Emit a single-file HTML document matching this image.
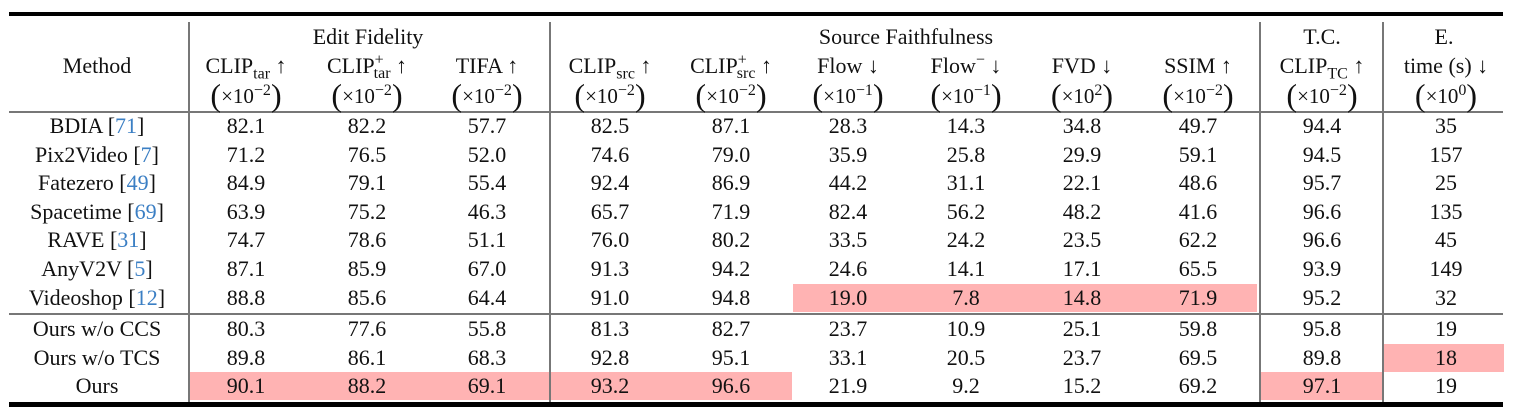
<!DOCTYPE html>
<html><head><meta charset="utf-8"><style>
body{margin:0;background:#fff;width:1522px;height:420px;position:relative;overflow:hidden;font-family:"Liberation Serif",serif;color:#111;}
.a{position:absolute;}
.t{position:absolute;transform:translate(-50%,-50%);white-space:nowrap;font-size:22px;line-height:1;}
.hl{position:absolute;background:#ffb3b3;}
.rule{position:absolute;background:#000;}
.ln{position:absolute;background:#777;}
.cite{color:#3b7fc4;}
sub,sup{font-size:16px;line-height:0;}
.u{font-size:21px;}
.big{font-size:32px;font-weight:100;vertical-align:-3px;}
</style></head><body>
<div class="rule" style="left:9px;top:12px;width:1494px;height:4px"></div>
<div class="ln" style="left:9px;top:111px;width:1494px;height:2px"></div>
<div class="ln" style="left:9px;top:313px;width:1494px;height:2px"></div>
<div class="rule" style="left:9px;top:402px;width:1494px;height:5px"></div>
<div id="hls"></div>
<div class="ln" style="left:188px;top:22px;width:1.5px;height:380px"></div>
<div class="ln" style="left:549px;top:22px;width:1.5px;height:380px"></div>
<div class="ln" style="left:1259px;top:22px;width:1.5px;height:380px"></div>
<div class="ln" style="left:1382px;top:22px;width:1.5px;height:380px"></div>

<div class="t" style="left:97px;top:66px">Method</div>
<div class="t" style="left:368px;top:37px">Edit Fidelity</div>
<div class="t" style="left:906px;top:37px">Source Faithfulness</div>
<div class="t" style="left:1322px;top:37px">T.C.</div>
<div class="t" style="left:1444px;top:37px">E.</div>

<div id="hdr"></div>
<div id="body"></div>
<script>
const cols=[246,367,487,610,731,848,966,1082,1198,1322,1446];
const heads=['CLIP<sub>tar</sub> ↑','CLIP<sup>+</sup><sub style="margin-left:-10px">tar</sub> ↑','TIFA ↑','CLIP<sub>src</sub> ↑','CLIP<sup>+</sup><sub style="margin-left:-10px">src</sub> ↑','Flow ↓','Flow<sup>−</sup> ↓','FVD ↓','SSIM ↑','CLIP<sub>TC</sub> ↑','time (s) ↓'];
const units=['10<sup>−2</sup>','10<sup>−2</sup>','10<sup>−2</sup>','10<sup>−2</sup>','10<sup>−2</sup>','10<sup>−1</sup>','10<sup>−1</sup>','10<sup>2</sup>','10<sup>−2</sup>','10<sup>−2</sup>','10<sup>0</sup>'];
const methods=['BDIA','Pix2Video','Fatezero','Spacetime','RAVE','AnyV2V','Videoshop','Ours w/o CCS','Ours w/o TCS','Ours'];
const cites=['71','7','49','69','31','5','12','','',''];
const vals=[
['82.1','82.2','57.7','82.5','87.1','28.3','14.3','34.8','49.7','94.4','35'],
['71.2','76.5','52.0','74.6','79.0','35.9','25.8','29.9','59.1','94.5','157'],
['84.9','79.1','55.4','92.4','86.9','44.2','31.1','22.1','48.6','95.7','25'],
['63.9','75.2','46.3','65.7','71.9','82.4','56.2','48.2','41.6','96.6','135'],
['74.7','78.6','51.1','76.0','80.2','33.5','24.2','23.5','62.2','96.6','45'],
['87.1','85.9','67.0','91.3','94.2','24.6','14.1','17.1','65.5','93.9','149'],
['88.8','85.6','64.4','91.0','94.8','19.0','7.8','14.8','71.9','95.2','32'],
['80.3','77.6','55.8','81.3','82.7','23.7','10.9','25.1','59.8','95.8','19'],
['89.8','86.1','68.3','92.8','95.1','33.1','20.5','23.7','69.5','89.8','18'],
['90.1','88.2','69.1','93.2','96.6','21.9','9.2','15.2','69.2','97.1','19']];
const rowY=[126,155,183,212,240,269,298,329,358,386];
const hls=[[6,793,1257],[9,189,549],[9,550,792],[9,1260,1382],[8,1384,1504]];
const H=document.getElementById('hls');
hls.forEach((h,i)=>{const d=document.createElement('div');d.className='hl';
d.style.left=h[1]+'px';d.style.width=(h[2]-h[1])+'px';d.style.top=(rowY[h[0]]-14)+'px';d.style.height='28px';


H.appendChild(d);});
const hd=document.getElementById('hdr');
cols.forEach((x,i)=>{
 let d=document.createElement('div');d.className='t';d.style.left=x+'px';d.style.top='66px';d.innerHTML=heads[i];
 
 
 hd.appendChild(d);
 d=document.createElement('div');d.className='t u';d.style.left=x+'px';d.style.top='95px';
 d.innerHTML='<span class="big">(</span>×'+units[i]+'<span class="big">)</span>';
 
 
 hd.appendChild(d);
});
const B=document.getElementById('body');
methods.forEach((m,r)=>{
 let d=document.createElement('div');d.className='t';d.style.left='97px';d.style.top=rowY[r]+'px';
 d.innerHTML=m+(cites[r]?' [<span class="cite">'+cites[r]+'</span>]':'');
 
 
 B.appendChild(d);
 vals[r].forEach((v,c)=>{const e=document.createElement('div');e.className='t';e.style.left=cols[c]+'px';e.style.top=rowY[r]+'px';e.textContent=v;
 
 
 B.appendChild(e);});
});
</script>
</body></html>
